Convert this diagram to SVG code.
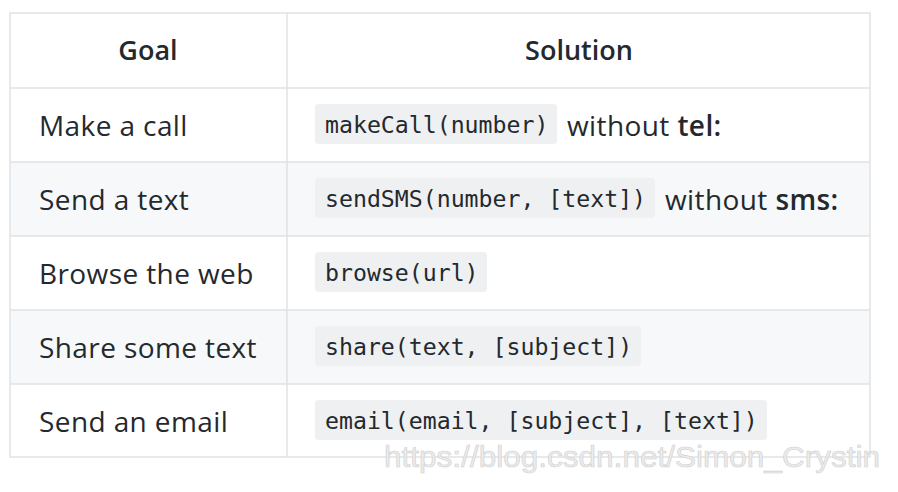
<svg xmlns="http://www.w3.org/2000/svg" width="898" height="492" viewBox="0 0 898 492">
<style>
.t{font-family:"Open Sans","Noto Sans",sans-serif;font-size:28px;letter-spacing:0.4px;fill:#24292e}
.h{font-family:"Open Sans","Noto Sans",sans-serif;font-size:27px;font-weight:600;fill:#24292e}
.c{font-family:"DejaVu Sans Mono","Liberation Mono",monospace;font-size:23.2px;fill:#24292e}
.cb{fill:#eff0f1}
.ln{stroke:#dfe2e5;stroke-width:1.5;fill:none}
</style>
<rect width="898" height="492" fill="#fff"/>
<g id="table">
<rect x="10" y="162" width="860" height="74" fill="#f6f8fa"/>
<rect x="10" y="310" width="860" height="74" fill="#f6f8fa"/>
<rect class="ln" x="10" y="13" width="860" height="444"/>
<line class="ln" x1="287" y1="13" x2="287" y2="457"/>
<line class="ln" x1="10" y1="88" x2="870" y2="88"/>
<line class="ln" x1="10" y1="162" x2="870" y2="162"/>
<line class="ln" x1="10" y1="236" x2="870" y2="236"/>
<line class="ln" x1="10" y1="310" x2="870" y2="310"/>
<line class="ln" x1="10" y1="384" x2="870" y2="384"/>
</g>
<g id="header">
<text class="h" x="148" y="60" text-anchor="middle">Goal</text>
<text class="h" x="579" y="60" text-anchor="middle">Solution</text>
</g>
<g id="row1">
<text class="t" x="39" y="136">Make a call</text>
<rect class="cb" x="315" y="104" width="242" height="40" rx="4"/>
<text class="c" x="325" y="133">makeCall(number)</text>
<text class="t" x="567" y="136">without <tspan font-weight="600">tel:</tspan></text>
</g>
<g id="row2">
<text class="t" x="39" y="210">Send a text</text>
<rect class="cb" x="315" y="178" width="340" height="40" rx="4"/>
<text class="c" x="325" y="207">sendSMS(number, [text])</text>
<text class="t" x="665" y="210">without <tspan font-weight="600">sms:</tspan></text>
</g>
<g id="row3">
<text class="t" x="39" y="284">Browse the web</text>
<rect class="cb" x="315" y="252" width="172" height="40" rx="4"/>
<text class="c" x="325" y="281">browse(url)</text>
</g>
<g id="row4">
<text class="t" x="39" y="358">Share some text</text>
<rect class="cb" x="315" y="326" width="326" height="40" rx="4"/>
<text class="c" x="325" y="355">share(text, [subject])</text>
</g>
<g id="row5">
<text class="t" x="39" y="432">Send an email</text>
<rect class="cb" x="315" y="400" width="452" height="40" rx="4"/>
<text class="c" x="325" y="429">email(email, [subject], [text])</text>
</g>
<text x="384" y="467" font-family="Liberation Sans,sans-serif" font-size="29" textLength="496" lengthAdjust="spacingAndGlyphs" fill="#ececec" stroke="#d0d0d0" stroke-width="0.6">https://blog.csdn.net/Simon_Crystin</text>
</svg>
